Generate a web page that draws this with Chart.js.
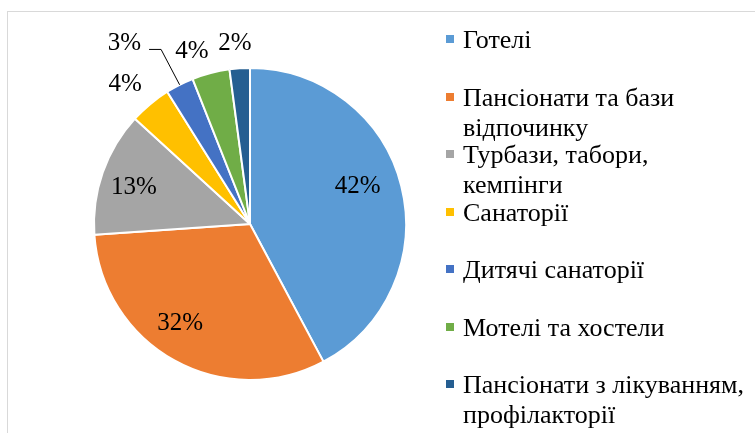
<!DOCTYPE html>
<html>
<head>
<meta charset="utf-8">
<script src="https://cdn.jsdelivr.net/npm/chart.js@4"></script>
<style>
  html, body { margin: 0; padding: 0; background: #fff; overflow: hidden; }
  #wrap { position: relative; width: 755px; height: 433px; }
  #frame { position: absolute; left: 7px; top: 11px; width: 900px; height: 600px;
           border: 1px solid #d9d9d9; box-sizing: border-box; }
  #pie { position: absolute; left: 0; top: 0; }
  #legend { position: absolute; left: 446px; top: 0; width: 309px;
            font-family: "Liberation Serif", "Times New Roman", serif; font-size: 26px; color: #000; }
  .item { position: absolute; left: 0; width: 309px; }
  .item .box { position: absolute; left: 0; top: 10px; width: 8px; height: 8px; }
  .item .txt { position: absolute; left: 17px; top: 0; width: 300px; line-height: 30px; white-space: nowrap; }
</style>
</head>
<body>
<div id="wrap">
  <div id="frame"></div>
  <canvas id="pie" width="755" height="433"></canvas>
  <div id="legend"></div>
</div>
<script>
const categories = [
  'Готелі',
  'Пансіонати та бази відпочинку',
  'Турбази, табори, кемпінги',
  'Санаторії',
  'Дитячі санаторії',
  'Мотелі та хостели',
  'Пансіонати з лікуванням, профілакторії'
];
const shares = [42.2, 31.7, 12.9, 4.3, 2.9, 3.9, 2.1];
const colors = ['#5B9BD5', '#ED7D31', '#A5A5A5', '#FFC000', '#4472C4', '#70AD47', '#255E91'];

// legend: number of words on the first line (0 = one line)
const wrapAfter = [0, 3, 2, 0, 0, 0, 3];

// label placement: radius factor and angle nudge (deg) per slice
const labelRadius = [0.73, 0.78, 0.78, 1.2, 1.41, 1.17, 1.16];
const labelShift = [-5, 6, -2, -2, -8, -4, -1];
const leader = [false, false, false, false, true, false, false];

const pctLabels = {
  id: 'pctLabels',
  afterDatasetsDraw(chart) {
    const c = chart.ctx;
    const arcs = chart.getDatasetMeta(0).data;
    c.save();
    c.font = '25px "Liberation Serif", "Times New Roman", serif';
    c.fillStyle = '#000';
    c.textAlign = 'center';
    c.textBaseline = 'middle';
    arcs.forEach((arc, i) => {
      const mid = (arc.startAngle + arc.endAngle) / 2;
      const a = mid + labelShift[i] * Math.PI / 180;
      const r = arc.outerRadius * labelRadius[i];
      const x = arc.x + r * Math.cos(a);
      const y = arc.y + r * Math.sin(a);
      const txt = Math.round(shares[i]) + '%';
      c.fillText(txt, x, y);
      if (leader[i]) {
        const w = c.measureText(txt).width;
        const ex = arc.x + arc.outerRadius * Math.cos(mid);
        const ey = arc.y + arc.outerRadius * Math.sin(mid);
        c.beginPath();
        c.strokeStyle = '#000';
        c.lineWidth = 1;
        c.moveTo(x + w / 2 + 8, y + 6);
        c.lineTo(x + w / 2 + 20, y + 6);
        c.lineTo(ex, ey);
        c.stroke();
      }
    });
    c.restore();
  }
};

new Chart(document.getElementById('pie'), {
  type: 'pie',
  data: {
    labels: categories,
    datasets: [{
      data: shares,
      backgroundColor: colors,
      borderColor: '#fff',
      borderWidth: 2
    }]
  },
  options: {
    responsive: false,
    animation: false,
    layout: { padding: { left: 93, right: 348, top: 67, bottom: 52 } },
    plugins: {
      legend: { display: false },
      tooltip: { enabled: false }
    }
  },
  plugins: [pctLabels]
});

// legend at right
const legend = document.getElementById('legend');
categories.forEach((name, i) => {
  const words = name.split(' ');
  const text = wrapAfter[i]
    ? words.slice(0, wrapAfter[i]).join(' ') + '<br>' + words.slice(wrapAfter[i]).join(' ')
    : name;
  const item = document.createElement('div');
  item.className = 'item';
  item.style.top = (25 + i * 57.5) + 'px';
  item.innerHTML = '<div class="box" style="background:' + colors[i] + '"></div><div class="txt">' + text + '</div>';
  legend.appendChild(item);
});
</script>
</body>
</html>
